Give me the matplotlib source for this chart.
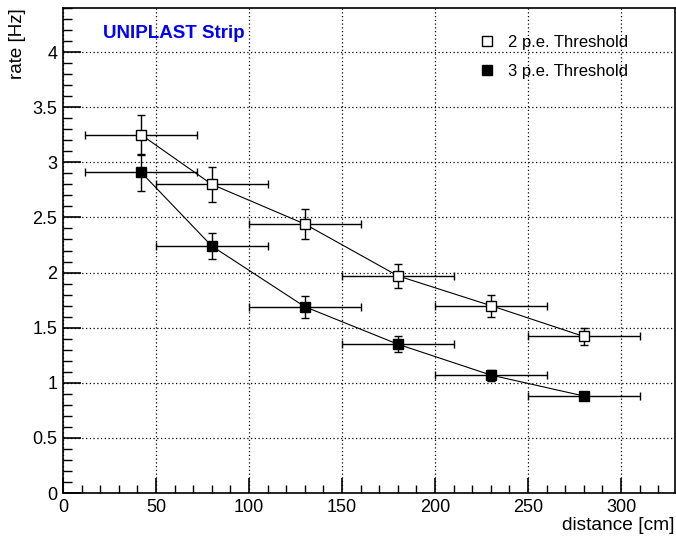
import matplotlib
matplotlib.use("Agg")
import matplotlib.pyplot as plt
from matplotlib.ticker import MultipleLocator
from matplotlib.lines import Line2D

plt.rcParams['font.family'] = ['Liberation Sans', 'DejaVu Sans']

distance = [42, 80, 130, 180, 230, 280]
distance_err = [30, 30, 30, 30, 30, 30]
rate_2pe = [3.25, 2.80, 2.44, 1.97, 1.70, 1.42]
rate_2pe_err = [0.18, 0.16, 0.14, 0.11, 0.10, 0.08]
rate_3pe = [2.91, 2.24, 1.69, 1.35, 1.07, 0.88]
rate_3pe_err = [0.17, 0.12, 0.10, 0.07, 0.05, 0.03]
labels = ["2 p.e. Threshold", "3 p.e. Threshold"]

fig = plt.figure(figsize=(6.76, 5.36), dpi=100)
ax = fig.add_axes([63/676, 1 - 493/536, (675-63)/676, (493-8)/536])

ax.errorbar(distance, rate_2pe, xerr=distance_err, yerr=rate_2pe_err, fmt='s',
            mfc='white', mec='black', ms=7.5, mew=1.0, ecolor='black', elinewidth=1.0,
            capsize=3, capthick=1.0, zorder=4)
ax.plot(distance, rate_2pe, color='black', lw=0.8, zorder=3)
ax.errorbar(distance, rate_3pe, xerr=distance_err, yerr=rate_3pe_err, fmt='s',
            mfc='black', mec='black', ms=7.5, mew=1.0, ecolor='black', elinewidth=1.0,
            capsize=3, capthick=1.0, zorder=4)
ax.plot(distance, rate_3pe, color='black', lw=0.8, zorder=3)

ax.set_xlim(0, 329)
ax.set_ylim(0, 4.4)
ax.xaxis.set_major_locator(MultipleLocator(50))
ax.xaxis.set_minor_locator(MultipleLocator(10))
ax.yaxis.set_major_locator(MultipleLocator(0.5))
ax.yaxis.set_minor_locator(MultipleLocator(0.1))
ax.set_xticks([0, 50, 100, 150, 200, 250, 300])
ax.set_xticklabels(['0', '50', '100', '150', '200', '250', '300'])
ax.set_yticks([0, 0.5, 1, 1.5, 2, 2.5, 3, 3.5, 4])
ax.set_yticklabels(['0', '0.5', '1', '1.5', '2', '2.5', '3', '3.5', '4'])

ax.tick_params(axis='x', which='major', direction='in', length=11, width=1.2, labelsize=13, pad=4)
ax.tick_params(axis='x', which='minor', direction='in', length=5.5, width=1.0)
ax.tick_params(axis='y', which='major', direction='in', length=13, width=1.2, labelsize=13, pad=4)
ax.tick_params(axis='y', which='minor', direction='in', length=6.5, width=1.0)
ax.grid(True, which='major', color='black', linestyle=(0, (1, 2)), linewidth=0.9)
ax.set_axisbelow(True)
for s in ax.spines.values():
    s.set_linewidth(1.2)

fig.text(18/676, 1 - 8/536, "rate [Hz]", rotation=90, ha='center', va='top', fontsize=13.5)
fig.text(675/676, 1 - 526/536, "distance [cm]", ha='right', va='center', fontsize=13.8)

ax.text(21.5, 4.17, "UNIPLAST Strip", color='#0000ff', fontweight='bold', fontsize=13.5,
        ha='left', va='center')

handles = [Line2D([], [], marker='s', ls='none', mfc='white', mec='black', ms=7, mew=1.0),
           Line2D([], [], marker='s', ls='none', mfc='black', mec='black', ms=7, mew=1.0)]
leg = ax.legend(handles, labels, loc='upper left', bbox_to_anchor=((480-63)/612, 1 - (35-8)/485),
                frameon=False, fontsize=12, handlelength=0.8, handletextpad=0.9,
                labelspacing=0.85, borderaxespad=0, borderpad=0)

fig.savefig("out.png", dpi=100)
